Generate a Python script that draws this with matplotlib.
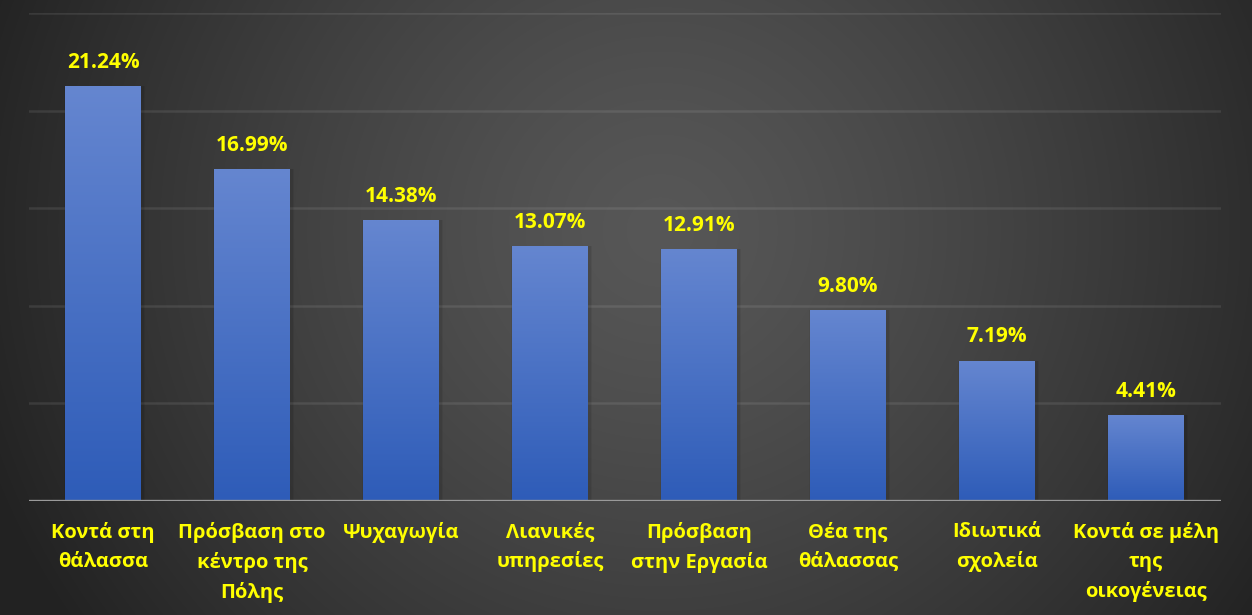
import matplotlib
matplotlib.use("Agg")
import matplotlib.pyplot as plt
import numpy as np
from matplotlib.colors import LinearSegmentedColormap

categories = ["Κοντά στη\nθάλασσα", "Πρόσβαση στο\nκέντρο της\nΠόλης", "Ψυχαγωγία",
              "Λιανικές\nυπηρεσίες", "Πρόσβαση\nστην Εργασία", "Θέα της\nθάλασσας",
              "Ιδιωτικά\nσχολεία", "Κοντά σε μέλη\nτης\nοικογένειας"]
values = [21.24, 16.99, 14.38, 13.07, 12.91, 9.80, 7.19, 4.41]
labels = ["21.24%", "16.99%", "14.38%", "13.07%", "12.91%", "9.80%", "7.19%", "4.41%"]

plt.rcParams['font.family'] = ['Open Sans', 'DejaVu Sans']

fig = plt.figure(figsize=(12.52, 6.15), dpi=100)

# radial gradient background
bg = fig.add_axes([0, 0, 1, 1], zorder=-10)
h, w = 615, 1252
yy, xx = np.mgrid[0:h, 0:w]
cx, cy = 660, 230
r = np.sqrt(((xx - cx) / 720) ** 2 + ((yy - cy) / 700) ** 2)
r = np.clip(r, 0, 1) ** 1.3
c_in = np.array([0x57, 0x57, 0x57]) / 255
c_out = np.array([0x22, 0x22, 0x22]) / 255
img = c_in[None, None, :] * (1 - r[..., None]) + c_out[None, None, :] * r[..., None]
bg.imshow(img, aspect='auto', extent=[0, 1, 0, 1])
bg.axis('off')

ax = fig.add_axes([28.5 / 1252, 114 / 615, 1192 / 1252, 488 / 615])
ax.patch.set_alpha(0)
x = np.arange(len(values))

bars = ax.bar(x, values, width=0.51, color='none', zorder=3)
cmap = LinearSegmentedColormap.from_list('b', ['#2e5cb8', '#6586d0'])
grad = np.linspace(0, 1, 256).reshape(-1, 1)
for b in bars:
    x0, y0 = b.get_x(), b.get_y()
    bw, bh = b.get_width(), b.get_height()
    # soft shadow
    for k, a in [(0.035, 0.05), (0.02, 0.07)]:
        ax.bar(x0 + bw / 2 + 0.01, bh, width=bw + k, color='black', alpha=a, zorder=2)
    im = ax.imshow(grad, cmap=cmap, aspect='auto', origin='lower',
                   extent=[x0, x0 + bw, y0, y0 + bh], zorder=3)
    im.set_clip_path(b)

ax.set_xlim(-0.5, len(values) - 0.5)
ax.set_ylim(0, 25)

for yv in [5, 10, 15, 20, 25]:
    ax.axhline(yv, color='white', alpha=0.09, lw=1.8, zorder=1)
ax.axhline(0, color='#9a9a9a', lw=2.4, zorder=4)

for xi, v, lab in zip(x, values, labels):
    ax.annotate(lab, (xi, v), xytext=(0, 9.5), textcoords='offset points',
                ha='center', va='bottom', color='#ffff00', fontsize=15,
                fontweight='bold')

for xi, c in zip(x, categories):
    ax.annotate(c, (xi, 0), xytext=(0, -15), textcoords='offset points',
                ha='center', va='top', color='#ffff00', fontsize=14.5,
                fontweight='bold', linespacing=1.58)

for s in ax.spines.values():
    s.set_visible(False)
ax.set_xticks([])
ax.set_yticks([])

fig.savefig('out.png', dpi=100)
